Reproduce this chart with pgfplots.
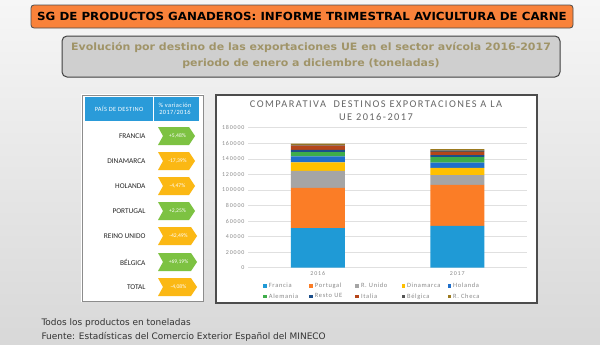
\documentclass[border=0pt]{standalone}
\usepackage{pgfplots}
\pgfplotsset{compat=1.18}
\usepackage{fontspec}
\setmainfont{DejaVu Sans}
\newfontfamily\calfont{Carlito}
\newfontfamily\calwide[LetterSpace=14]{Carlito}
\newfontfamily\callegend[LetterSpace=10]{Carlito}
\newfontfamily\calmid[LetterSpace=6]{Carlito}
\definecolor{bgtop}{HTML}{F6F6F6}
\definecolor{bgbot}{HTML}{D8D8D8}
\definecolor{banner}{HTML}{F9823A}
\definecolor{subbox}{HTML}{CFCFCF}
\definecolor{subtxt}{HTML}{A09468}
\definecolor{hdrblue}{HTML}{2A9BD9}
\definecolor{chgreen}{HTML}{7DC242}
\definecolor{chorange}{HTML}{FBB814}
\definecolor{cFrancia}{HTML}{1F9AD6}
\definecolor{cPortugal}{HTML}{FB7D26}
\definecolor{cRUnido}{HTML}{A5A5A5}
\definecolor{cDinamarca}{HTML}{FFC000}
\definecolor{cHolanda}{HTML}{1F6FCB}
\definecolor{cAlemania}{HTML}{3EAD4A}
\definecolor{cResto}{HTML}{1B4F8A}
\definecolor{cItalia}{HTML}{B5461A}
\definecolor{cBelgica}{HTML}{555555}
\definecolor{cChequia}{HTML}{9C7A1F}
\definecolor{ticktxt}{HTML}{8A8A8A}
\newcommand\chev[4]{%
  \fill[#3] (158,#1-9) -- (#2-6,#1-9) -- (#2,#1) -- (#2-6,#1+9) -- (158,#1+9) -- (163,#1) -- cycle;
  \node[text=white,font=\calfont\fontsize{5.6}{6}\selectfont] at ({(158+#2)/2+1},#1) {#4};}
\newcommand\legbox[1]{\makebox[37bp][l]{#1}}
\begin{document}
\begin{tikzpicture}
\useasboundingbox (0,0) rectangle (600bp,-345bp);
\begin{scope}[x=1bp,y=-1bp]
\shade[top color=bgtop,bottom color=bgbot] (0,0) rectangle (600,345);
% banner
\draw[fill=banner,draw=black!70,rounded corners=3bp,line width=0.8bp] (31,5) rectangle (573,28);
\node[font=\bfseries\fontsize{11.2}{12}\selectfont,text=black] at (302,16.5) {\scalebox{1.06}[1]{SG DE PRODUCTOS GANADEROS: INFORME TRIMESTRAL AVICULTURA DE CARNE}};
% subtitle
\draw[fill=subbox,draw=black!75,rounded corners=5bp,line width=1bp] (62,36) rectangle (560,77);
\node[font=\bfseries\fontsize{10.2}{16}\selectfont,text=subtxt,align=center] at (311,55.5) {\scalebox{1.08}[1]{Evolución por destino de las exportaciones UE en el sector avícola 2016-2017}\\\scalebox{1.08}[1]{periodo de enero a diciembre (toneladas)}};
% table
\fill[white] (81,94) rectangle (204,302);
\draw[black!45,line width=0.6bp] (82,95) rectangle (203,301);
\fill[hdrblue] (85,97) rectangle (199,121);
\draw[white,line width=0.6bp] (153,97) -- (153,121);
\node[text=white,font=\calmid\fontsize{6.4}{7}\selectfont] at (119,109) {PAÍS DE DESTINO};
\node[text=white,font=\calmid\fontsize{6.4}{7.6}\selectfont,align=center] at (175,109) {\% variación\\2017/2016};
\foreach \yy/\nm in {136/FRANCIA,161/DINAMARCA,186/HOLANDA,211/PORTUGAL,236/REINO UNIDO,262/BÉLGICA,287/TOTAL}
  \node[anchor=east,font=\calfont\fontsize{7.4}{8}\selectfont,text=black!85] at (149,\yy) {\nm};
\chev{136}{195}{chgreen}{+5,48\%}
\chev{161}{195}{chorange}{-17,39\%}
\chev{186}{195}{chorange}{-4,47\%}
\chev{211}{195}{chgreen}{+2,25\%}
\chev{236}{197}{chorange}{-42,49\%}
\chev{262}{197}{chgreen}{+69,19\%}
\chev{287}{197}{chorange}{-4,08\%}
% chart box
\fill[white] (216,95) rectangle (537,303);
\draw[black!70,line width=1.2bp] (216,95) rectangle (537,303);
\node[font=\calwide\fontsize{10.4}{13}\selectfont,text=black!60,align=center] at (376,110.5) {COMPARATIVA\ \ DESTINOS EXPORTACIONES A LA\\UE 2016-2017};
% footer
\node[anchor=west,font=\fontsize{9}{10}\selectfont,text=black!80] at (38,323) {Todos los productos en toneladas};
\node[anchor=west,font=\fontsize{9}{10}\selectfont,text=black!80] at (38,337) {Fuente: Estadísticas del Comercio Exterior Español del MINECO};
\end{scope}
\begin{axis}[
  at={(248bp,-267.7bp)}, anchor=south west,
  scale only axis, width=279bp, height=140bp,
  ybar stacked, bar width=54bp,
  xmin=-0.5, xmax=1.5, ymin=0, ymax=180000,
  xtick={0,1}, xticklabels={2016,2017},
  ytick={0,20000,...,180000},
  scaled y ticks=false,
  yticklabel style={/pgf/number format/fixed,/pgf/number format/1000 sep={},/pgf/number format/assume math mode=true},
  tick label style={font=\calwide\fontsize{6}{6}\selectfont,text=ticktxt},
  xticklabel style={yshift=-0.5bp},
  ymajorgrids, grid style={black!12,line width=0.5bp},
  axis line style={draw=none}, tick style={draw=none},
  legend columns=5,
  legend style={at={(0.054,-0.095)},anchor=north west,draw=none,fill=none,
    font=\callegend\fontsize{6.5}{7}\selectfont,text=ticktxt,
    inner sep=0pt, row sep=0.5bp,
    /tikz/every even column/.append style={column sep=1.5bp}},
  legend image code/.code={\fill[#1,draw=none] (0bp,-1.7bp) rectangle (3.6bp,1.7bp);},
]
\addplot[fill=cFrancia,draw=none] coordinates {(0,51000) (1,53800)};
\addplot[fill=cPortugal,draw=none] coordinates {(0,51500) (1,52700)};
\addplot[fill=cRUnido,draw=none] coordinates {(0,22000) (1,12600)};
\addplot[fill=cDinamarca,draw=none] coordinates {(0,11000) (1,9100)};
\addplot[fill=cHolanda,draw=none] coordinates {(0,7500) (1,7000)};
\addplot[fill=cAlemania,draw=none] coordinates {(0,5500) (1,6900)};
\addplot[fill=cResto,draw=none] coordinates {(0,3000) (1,2500)};
\addplot[fill=cItalia,draw=none] coordinates {(0,5500) (1,4400)};
\addplot[fill=cBelgica,draw=none] coordinates {(0,1000) (1,1700)};
\addplot[fill=cChequia,draw=none] coordinates {(0,1500) (1,1700)};
\legend{\legbox{Francia},\legbox{Portugal},\legbox{R. Unido},\legbox{Dinamarca},\legbox{Holanda},\legbox{Alemania},\legbox{Resto UE},\legbox{Italia},\legbox{Bélgica},\legbox{R. Checa}}
\end{axis}
\end{tikzpicture}
\end{document}
